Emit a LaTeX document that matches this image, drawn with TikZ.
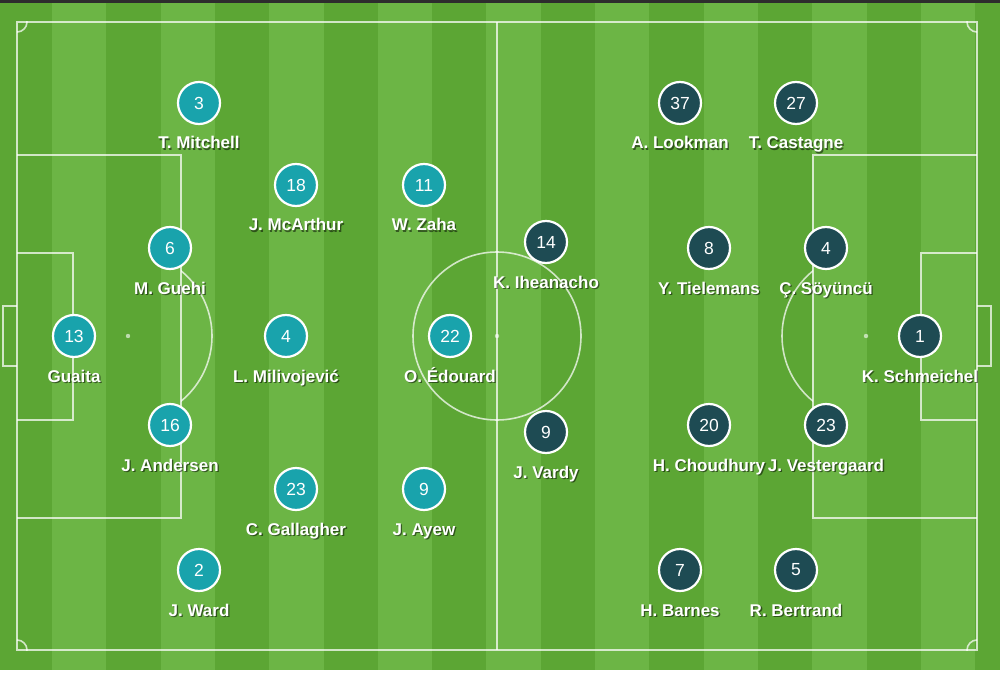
\documentclass[tikz,border=0pt]{standalone}
\usepackage{fontspec}
\setmainfont{Liberation Sans}
\definecolor{grdark}{RGB}{92,166,52}
\definecolor{grlight}{RGB}{108,181,69}
\definecolor{teamA}{RGB}{25,163,172}
\definecolor{teamB}{RGB}{30,75,83}
\definecolor{topbar}{RGB}{45,45,45}
\newcommand\plr[6]{%
  \node[#2] (#1) at (#3,#4) {#5};
  \node[lblsh] (#1s) at (#3+1.3,#4+47.5) {#6};
  \node[lbl] (#1l) at (#3,#4+46) {#6};
}
\begin{document}
\begin{tikzpicture}[x=1pt,y=-1pt,
  fline/.style={draw=white,draw opacity=0.72,line width=1.6pt},
  pnum/.style={circle,draw=white,line width=2.2pt,minimum size=42pt,inner sep=0pt,text=white,font=\fontsize{17.5}{17.5}\selectfont},
  home/.style={pnum,fill=teamA},
  away/.style={pnum,fill=teamB},
  lbl/.style={text=white,font=\fontsize{17}{17}\selectfont\bfseries,anchor=base,inner sep=0pt},
  lblsh/.style={text=black,text opacity=0.5,font=\fontsize{17}{17}\selectfont\bfseries,anchor=base,inner sep=0pt}]
\useasboundingbox (0,0) rectangle (1000,676);
\fill[white] (0,0) rectangle (1000,676);
\fill[topbar] (0,0) rectangle (1000,3);
\fill[grdark] (0,3) rectangle (1000,670);
\foreach \k in {0,2,...,16} {
  \fill[grlight] (52+54.3*\k,3) rectangle (52+54.3*\k+54.3,670);
}
% field lines
\draw[fline] (17,22) rectangle (977,650);
\draw[fline] (497,22) -- (497,650);
\draw[fline] (17,155) -- (181,155) -- (181,518) -- (17,518);
\draw[fline] (17,253) -- (73,253) -- (73,420) -- (17,420);
\draw[fline] (17,306) -- (3,306) -- (3,366) -- (17,366);
\draw[fline] (977,155) -- (813,155) -- (813,518) -- (977,518);
\draw[fline] (977,253) -- (921,253) -- (921,420) -- (977,420);
\draw[fline] (977,306) -- (991,306) -- (991,366) -- (977,366);
\draw[fline] (497,336) circle[radius=84];
\fill[white,opacity=0.6] (128,336) circle[radius=2.2];
\fill[white,opacity=0.6] (497,336) circle[radius=2.2];
\fill[white,opacity=0.6] (866,336) circle[radius=2.2];
\begin{scope}
  \clip (181,0) rectangle (497,676);
  \draw[fline] (128,336) circle[radius=84];
\end{scope}
\begin{scope}
  \clip (497,0) rectangle (813,676);
  \draw[fline] (866,336) circle[radius=84];
\end{scope}
\begin{scope}
  \clip (17,22) rectangle (977,650);
  \draw[fline] (17,22) circle[radius=10];
  \draw[fline] (977,22) circle[radius=10];
  \draw[fline] (17,650) circle[radius=10];
  \draw[fline] (977,650) circle[radius=10];
\end{scope}
% home team
\plr{hA}{home}{199}{103}{3}{T. Mitchell}
\plr{hB}{home}{296}{185}{18}{J. McArthur}
\plr{hC}{home}{424}{185}{11}{W. Zaha}
\plr{hD}{home}{170}{248}{6}{M. Guehi}
\plr{hE}{home}{74}{336}{13}{Guaita}
\plr{hF}{home}{286}{336}{4}{L. Milivojević}
\plr{hG}{home}{450}{336}{22}{O. Édouard}
\plr{hH}{home}{170}{425}{16}{J. Andersen}
\plr{hI}{home}{296}{489}{23}{C. Gallagher}
\plr{hJ}{home}{424}{489}{9}{J. Ayew}
\plr{hK}{home}{199}{570}{2}{J. Ward}
% away team
\plr{aA}{away}{680}{103}{37}{A. Lookman}
\plr{aB}{away}{796}{103}{27}{T. Castagne}
\plr{aC}{away}{546}{242}{14}{K. Iheanacho}
\plr{aD}{away}{709}{248}{8}{Y. Tielemans}
\plr{aE}{away}{826}{248}{4}{Ç. Söyüncü}
\plr{aF}{away}{920}{336}{1}{K. Schmeichel}
\plr{aG}{away}{546}{432}{9}{J. Vardy}
\plr{aH}{away}{709}{425}{20}{H. Choudhury}
\plr{aI}{away}{826}{425}{23}{J. Vestergaard}
\plr{aJ}{away}{680}{570}{7}{H. Barnes}
\plr{aK}{away}{796}{570}{5}{R. Bertrand}
\end{tikzpicture}
\end{document}
